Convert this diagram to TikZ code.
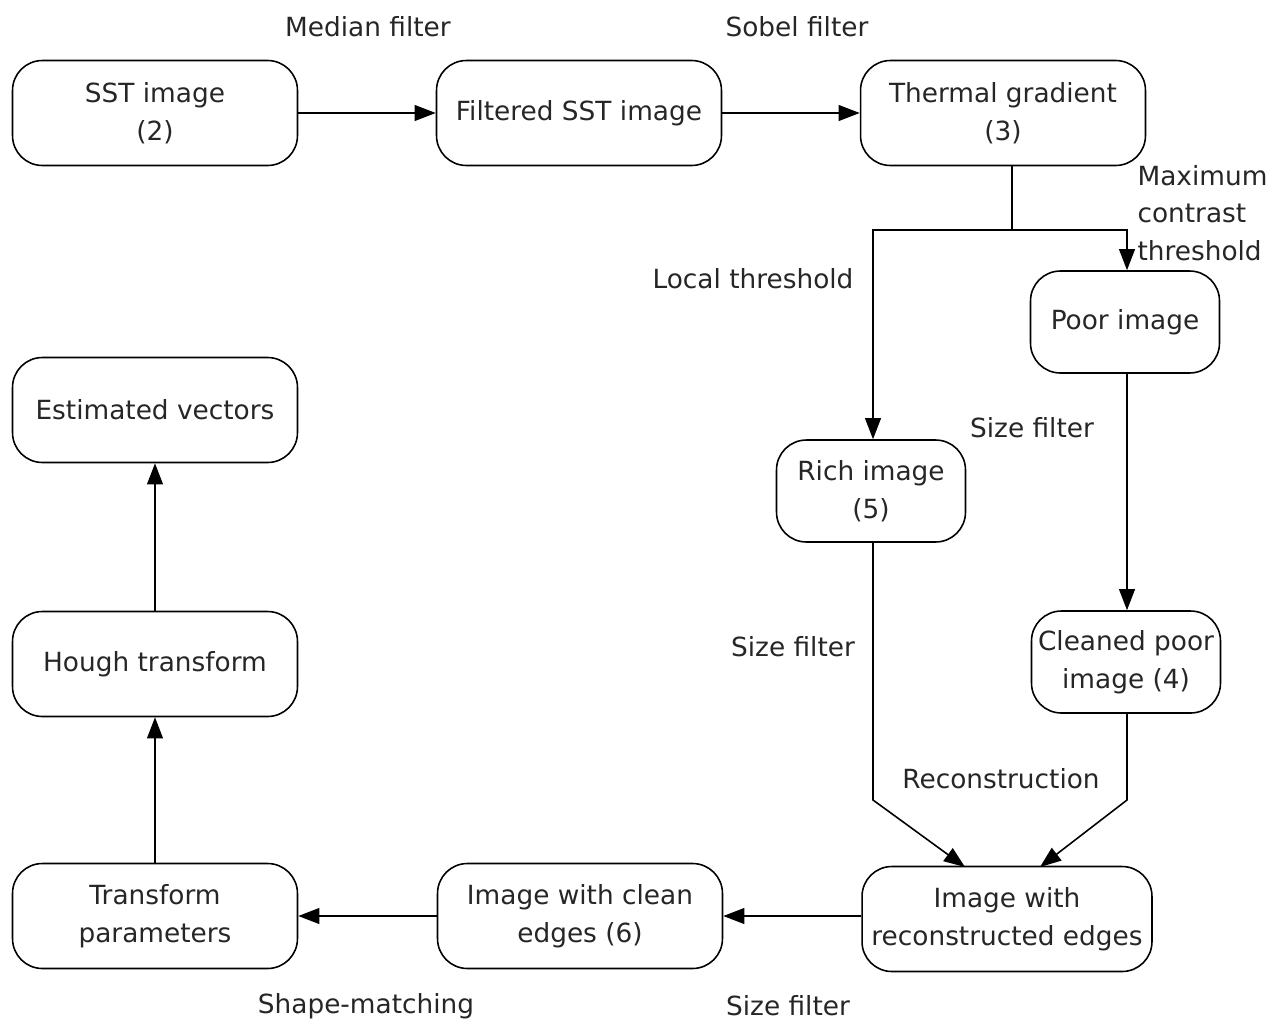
\documentclass[tikz,border=0pt]{standalone}
\usepackage{fontspec}
\setmainfont{DejaVu Sans}
\usetikzlibrary{arrows.meta}

\begin{document}
\begin{tikzpicture}[x=0.02cm, y=-0.02cm, line width=0.9pt,
    every node/.style = {font=\fontsize{15}{21.5}\selectfont, text=black!85,
                         inner sep=1pt, align=center},
          box/.style  = {draw, rounded corners=17pt, minimum width=5.7cm,
                         minimum height=2.1cm},
          sbox/.style = {draw, rounded corners=17pt, minimum width=3.78cm,
                         minimum height=2.04cm},
          arr/.style  = {-{Triangle[length=12pt,width=9pt]}},]%
  \useasboundingbox (0,0) rectangle (1277,1025);
  % top row
  \node [box]  (sst)      at (155,113)  {SST image\\(2)};
  \node [box]  (filtered) at (579,113)  {Filtered SST image};
  \node [box]  (thermal)  at (1003,113) {Thermal gradient\\(3)};
  % right column
  \node [sbox] (poor)     at (1125,322) {Poor image};
  \node [sbox] (rich)     at (871,491)  {Rich image\\(5)};
  \node [sbox] (cleaned)  at (1126,662) {Cleaned poor\\image (4)};
  % bottom row
  \node [box, minimum width=5.8cm]
               (recon)    at (1007,919) {Image with\\reconstructed edges};
  \node [box]  (clean)    at (580,916)  {Image with clean\\edges (6)};
  \node [box]  (params)   at (155,916)  {Transform\\parameters};
  % left column
  \node [box]  (hough)    at (155,664)  {Hough transform};
  \node [box]  (vectors)  at (155,410)  {Estimated vectors};
  % labels
  \node (median)  at (368,27)   {Median filter};
  \node (sobel)   at (797,27)   {Sobel filter};
  \node [anchor=west, align=left]
        (maxcon)  at (1135,213) {Maximum\\contrast\\threshold};
  \node (local)   at (753,279)  {Local threshold};
  \node (size1)   at (1032,428) {Size filter};
  \node (size2)   at (793,647)  {Size filter};
  \node (rec)     at (1001,779) {Reconstruction};
  \node (size3)   at (788,1006) {Size filter};
  \node (shape)   at (366,1006) {Shape-matching};
  % helper points
  \coordinate (split)   at (1012,230);
  \coordinate (richbd)  at (873,800);
  \coordinate (cleanbd) at (1127,800);
  \coordinate (inl)     at (965,867);
  \coordinate (inr)     at (1040,867);
  % connectors
  \draw [arr] (sst) -- (filtered);
  \draw [arr] (filtered) -- (thermal);
  \draw (split |- thermal.south) -- (split);
  \draw [arr] (split) -| (rich.north -| richbd);
  \draw [arr] (split) -| (poor.north -| cleanbd);
  \draw [arr] (poor.south -| cleanbd) -- (cleaned.north -| cleanbd);
  \draw [arr] (rich.south -| richbd) -- (richbd) -- (inl);
  \draw [arr] (cleaned.south -| cleanbd) -- (cleanbd) -- (inr);
  \draw [arr] (recon.west |- clean) -- (clean);
  \draw [arr] (clean) -- (params);
  \draw [arr] (params) -- (hough);
  \draw [arr] (hough) -- (vectors);
\end{tikzpicture}
\end{document}
